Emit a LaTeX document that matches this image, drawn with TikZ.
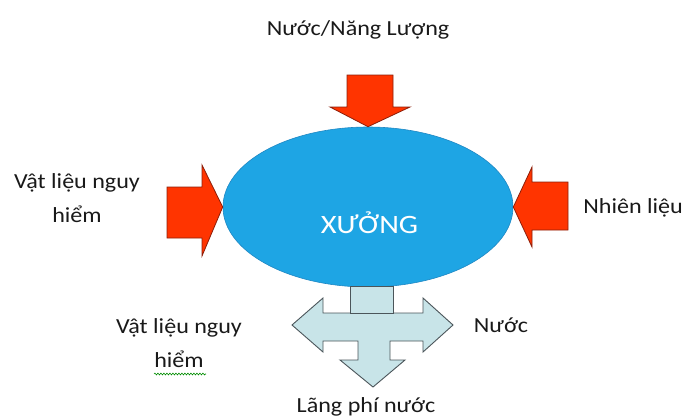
\documentclass[tikz,border=0pt]{standalone}
\usepackage{fontspec}
\setmainfont{Carlito}
\usepackage{graphicx}
\usetikzlibrary{shapes.geometric,decorations.pathmorphing}

\definecolor{xanh}{RGB}{30,165,228}
\definecolor{xanhvien}{RGB}{30,135,195}
\definecolor{do}{RGB}{255,52,0}
\definecolor{dovien}{RGB}{140,30,10}
\definecolor{nhat}{RGB}{200,228,232}
\definecolor{nhatvien}{RGB}{75,85,90}
\definecolor{chu}{RGB}{25,25,25}

% Calibri-like text, a little wider
\newcommand{\rong}[1]{\scalebox{1.12}[1]{#1}}

\begin{document}
\begin{tikzpicture}[x=1pt, y=-1pt,
  lbl/.style = {text=chu, font=\fontsize{21.5}{34}\selectfont, align=center, inner sep=0pt},
  redarrow/.style = {fill=do, draw=dovien, line width=0.8pt, line join=miter},
  outarrow/.style = {fill=nhat, draw=nhatvien, line width=0.9pt}]
\useasboundingbox (0,0) rectangle (684,418);

\node[ellipse, fill=xanh, draw=xanhvien, line width=0.6pt, minimum width=290pt, minimum height=160pt, inner sep=0pt] (xuong) at (368,207) {};
\node[text=white, font=\fontsize{26.5}{30}\selectfont, inner sep=0pt, anchor=base] (tenxuong) at (369.5,233) {\scalebox{1.15}[1]{XƯỞNG}};

% inputs
\draw[redarrow] (347,75) -- (393,75) -- (393,107) -- (410,107) -- (xuong.north) -- (330,107) -- (347,107) -- cycle;
\draw[redarrow] (167,187) -- (202,187) -- (202,165) -- (xuong.west) -- (202,256) -- (202,238) -- (167,238) -- cycle;
\draw[redarrow] (568,182) -- (532,182) -- (532,167) -- (xuong.east) -- (532,247) -- (532,230) -- (568,230) -- cycle;

% outputs
\draw[outarrow] (292,325) -- (323,298) -- (323,313) -- (423,313) -- (423,298) -- (453,325) -- (423,352) -- (423,341)
  -- (390,341) -- (390,360) -- (405,360) -- (373,387) -- (340,360) -- (358,360) -- (358,341) -- (323,341) -- (323,352) -- cycle;
\draw[outarrow] (350,286) rectangle (393,313);

% labels (base = last line)
\node[lbl, anchor=base] (nangluong) at (358,35) {\rong{Nước/Năng Lượng}};
\node[lbl, anchor=base] (vatlieu) at (77,222) {\rong{Vật liệu nguy}\\\rong{hiểm}};
\node[lbl, anchor=base east] (nhienlieu) at (683,213) {\rong{Nhiên liệu}};
\node[lbl, anchor=base] (chatthai) at (179,367) {\rong{Vật liệu nguy}\\\rong{hiểm}};
\node[lbl, anchor=base] (nuoc) at (501,332) {\rong{Nước}};
\node[lbl, anchor=base] (langphi) at (366,412) {\rong{Lãng phí nước}};

\draw[green!55!black, line width=0.6pt, decorate, decoration={snake, amplitude=0.9pt, segment length=3pt}] (154,374) -- (206,374);
\end{tikzpicture}
\end{document}
